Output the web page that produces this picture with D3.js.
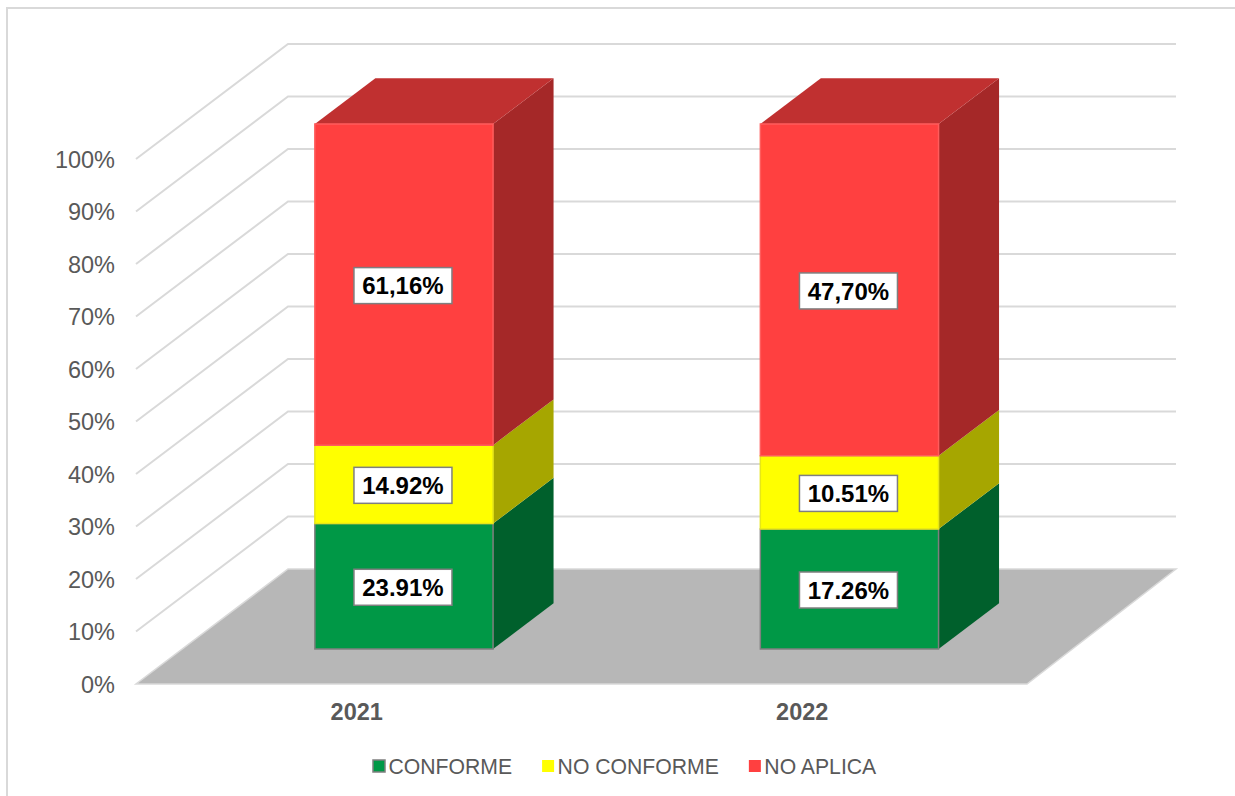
<!DOCTYPE html>
<html lang="es">
<head>
<meta charset="utf-8">
<title>Conformidad 2021-2022</title>
<script src="https://cdnjs.cloudflare.com/ajax/libs/d3/7.8.5/d3.min.js"></script>
<style>
    html, body { margin: 0; padding: 0; background: #fff; overflow: hidden; }
    text { font-family: "Liberation Sans", Arial, sans-serif; }
</style>
</head>
<body>
<div id="grafico"></div>
<script>
// Datos
const years = ["2021", "2022"];
const seriesNames = ["CONFORME", "NO CONFORME", "NO APLICA"];
const conforme = [23.91, 17.26];
const noConforme = [14.92, 10.51];
const noAplica = [61.16, 47.70];
const labelsConforme = ["23.91%", "17.26%"];
const labelsNoConforme = ["14.92%", "10.51%"];
const labelsNoAplica = ["61,16%", "47,70%"];
const ticks = [0, 0.1, 0.2, 0.3, 0.4, 0.5, 0.6, 0.7, 0.8, 0.9, 1];

const width = 1235;
const height = 796;

// Colores por serie
const colorFront = ["#009846", "#ffff00", "#ff4040"];
const colorSide = ["#00602c", "#a6a600", "#a52828"];
const colorStroke = ["#7f7f7f", "#e6e619", "#ff5c5c"];
const colorTop = "#c03030";

const svg = d3.select("#grafico")
    .append("svg")
    .attr("width", width)
    .attr("height", height);

// Marco exterior
svg.append("path")
    .attr("d", `M7,${height} V8 H${width}`)
    .attr("fill", "none")
    .attr("stroke", "#d9d9d9")
    .attr("stroke-width", 2);

// Escalas
const y = d3.scaleLinear().domain([0, 1]).range([684, 159]);
const x = d3.scaleBand().domain(years).range([135, 1026]).paddingInner(0.6).paddingOuter(0.3);
const xFloor = d3.scaleLinear().domain([0, 1]).range([136, 1027]);
const xWallEnd = 1176;

// Profundidad: 0 plano frontal, 1 pared del fondo
const depthX = d3.scaleLinear().domain([0, 1]).range([0, 152]);
const depthY = d3.scaleLinear().domain([0, 1]).range([0, -115]);
const barDepth = [0.304, 0.702];

const pt = (px, py, d) => [px + depthX(d), py + depthY(d)];
const poly = d3.line();

// Apilado al 100%
const table = years.map((year, i) => ({
    year,
    [seriesNames[0]]: conforme[i],
    [seriesNames[1]]: noConforme[i],
    [seriesNames[2]]: noAplica[i]
}));
const stacked = d3.stack().keys(seriesNames).offset(d3.stackOffsetExpand)(table);
const labels = [labelsConforme, labelsNoConforme, labelsNoAplica];

// Suelo
svg.append("path")
    .attr("d", poly([
        pt(xFloor(0), y(0), 0),
        pt(xFloor(1), y(0), 0),
        [xWallEnd, y(0) + depthY(1)],
        pt(xFloor(0), y(0), 1)
    ]) + "Z")
    .attr("fill", "#b7b7b7")
    .attr("stroke", "#d9d9d9")
    .attr("stroke-width", 1.5);

// Líneas de división: lateral y pared del fondo
svg.append("g")
    .selectAll("path")
    .data(ticks.slice(1))
    .join("path")
    .attr("d", t => poly([
        pt(xFloor(0), y(t), 0),
        pt(xFloor(0), y(t), 1),
        [xWallEnd, y(t) + depthY(1)]
    ]))
    .attr("fill", "none")
    .attr("stroke", "#d9d9d9")
    .attr("stroke-width", 2);

// Eje Y
const axisY = svg.append("g")
    .attr("transform", "translate(122,0.5)")
    .call(d3.axisLeft(y).tickValues(ticks).tickFormat(d3.format(".0%")).tickSize(0).tickPadding(7));
axisY.select(".domain").remove();
axisY.selectAll("text")
    .attr("font-family", null)
    .attr("font-size", 23.5)
    .attr("fill", "#595959");

// Eje X
svg.selectAll("text.year")
    .data(years)
    .join("text")
    .attr("class", "year")
    .attr("x", d => x(d) + x.bandwidth() / 2 - 1)
    .attr("y", 720)
    .attr("text-anchor", "middle")
    .attr("font-size", 23.5)
    .attr("font-weight", "bold")
    .attr("fill", "#595959")
    .text(d => d);

// Barras 3D, de abajo hacia arriba
const barsG = svg.append("g");
stacked.forEach((serie, s) => {
    serie.forEach(d => {
        const x0 = x(d.data.year);
        const x1 = x0 + x.bandwidth();
        const yb = y(d[0]);
        const yt = y(d[1]);
        const f = barDepth[0];
        const b = barDepth[1];

        // Cara lateral
        barsG.append("path")
            .attr("d", poly([pt(x1, yb, f), pt(x1, yb, b), pt(x1, yt, b), pt(x1, yt, f)]) + "Z")
            .attr("fill", colorSide[s]);

        // Cara superior, solo en la última serie
        if (s === stacked.length - 1) {
            barsG.append("path")
                .attr("d", poly([pt(x0, yt, f), pt(x1, yt, f), pt(x1, yt, b), pt(x0, yt, b)]) + "Z")
                .attr("fill", colorTop);
        }

        // Cara frontal
        barsG.append("path")
            .attr("d", poly([pt(x0, yb, f), pt(x1, yb, f), pt(x1, yt, f), pt(x0, yt, f)]) + "Z")
            .attr("fill", colorFront[s])
            .attr("stroke", colorStroke[s])
            .attr("stroke-width", 1.5);
    });
});

// Etiquetas de datos
stacked.forEach((serie, s) => {
    serie.forEach((d, i) => {
        const [cx, cy] = pt(x(d.data.year) + x.bandwidth() / 2, y((d[0] + d[1]) / 2), barDepth[0]);
        const g = svg.append("g").attr("transform", `translate(${cx - 1},${cy + 1})`);
        g.append("rect")
            .attr("x", -49)
            .attr("y", -18)
            .attr("width", 98)
            .attr("height", 36)
            .attr("fill", "#fff")
            .attr("stroke", "#7f7f7f")
            .attr("stroke-width", 1.5);
        g.append("text")
            .attr("text-anchor", "middle")
            .attr("dy", "0.36em")
            .attr("font-size", 24)
            .attr("font-weight", "bold")
            .attr("fill", "#000")
            .text(labels[s][i]);
    });
});

// Leyenda
let legendX = 373;
seriesNames.forEach((name, s) => {
    const g = svg.append("g").attr("transform", `translate(${legendX},766)`);
    g.append("rect")
        .attr("x", 0)
        .attr("y", -6)
        .attr("width", 12)
        .attr("height", 12)
        .attr("fill", colorFront[s])
        .attr("stroke", s === 0 ? colorStroke[s] : "none")
        .attr("stroke-width", 1.5);
    const t = g.append("text")
        .attr("x", 15.5)
        .attr("dy", "0.36em")
        .attr("font-size", 21.2)
        .attr("fill", "#595959")
        .text(name);
    legendX += 15.5 + t.node().getComputedTextLength() + 30;
});
</script>
</body>
</html>
